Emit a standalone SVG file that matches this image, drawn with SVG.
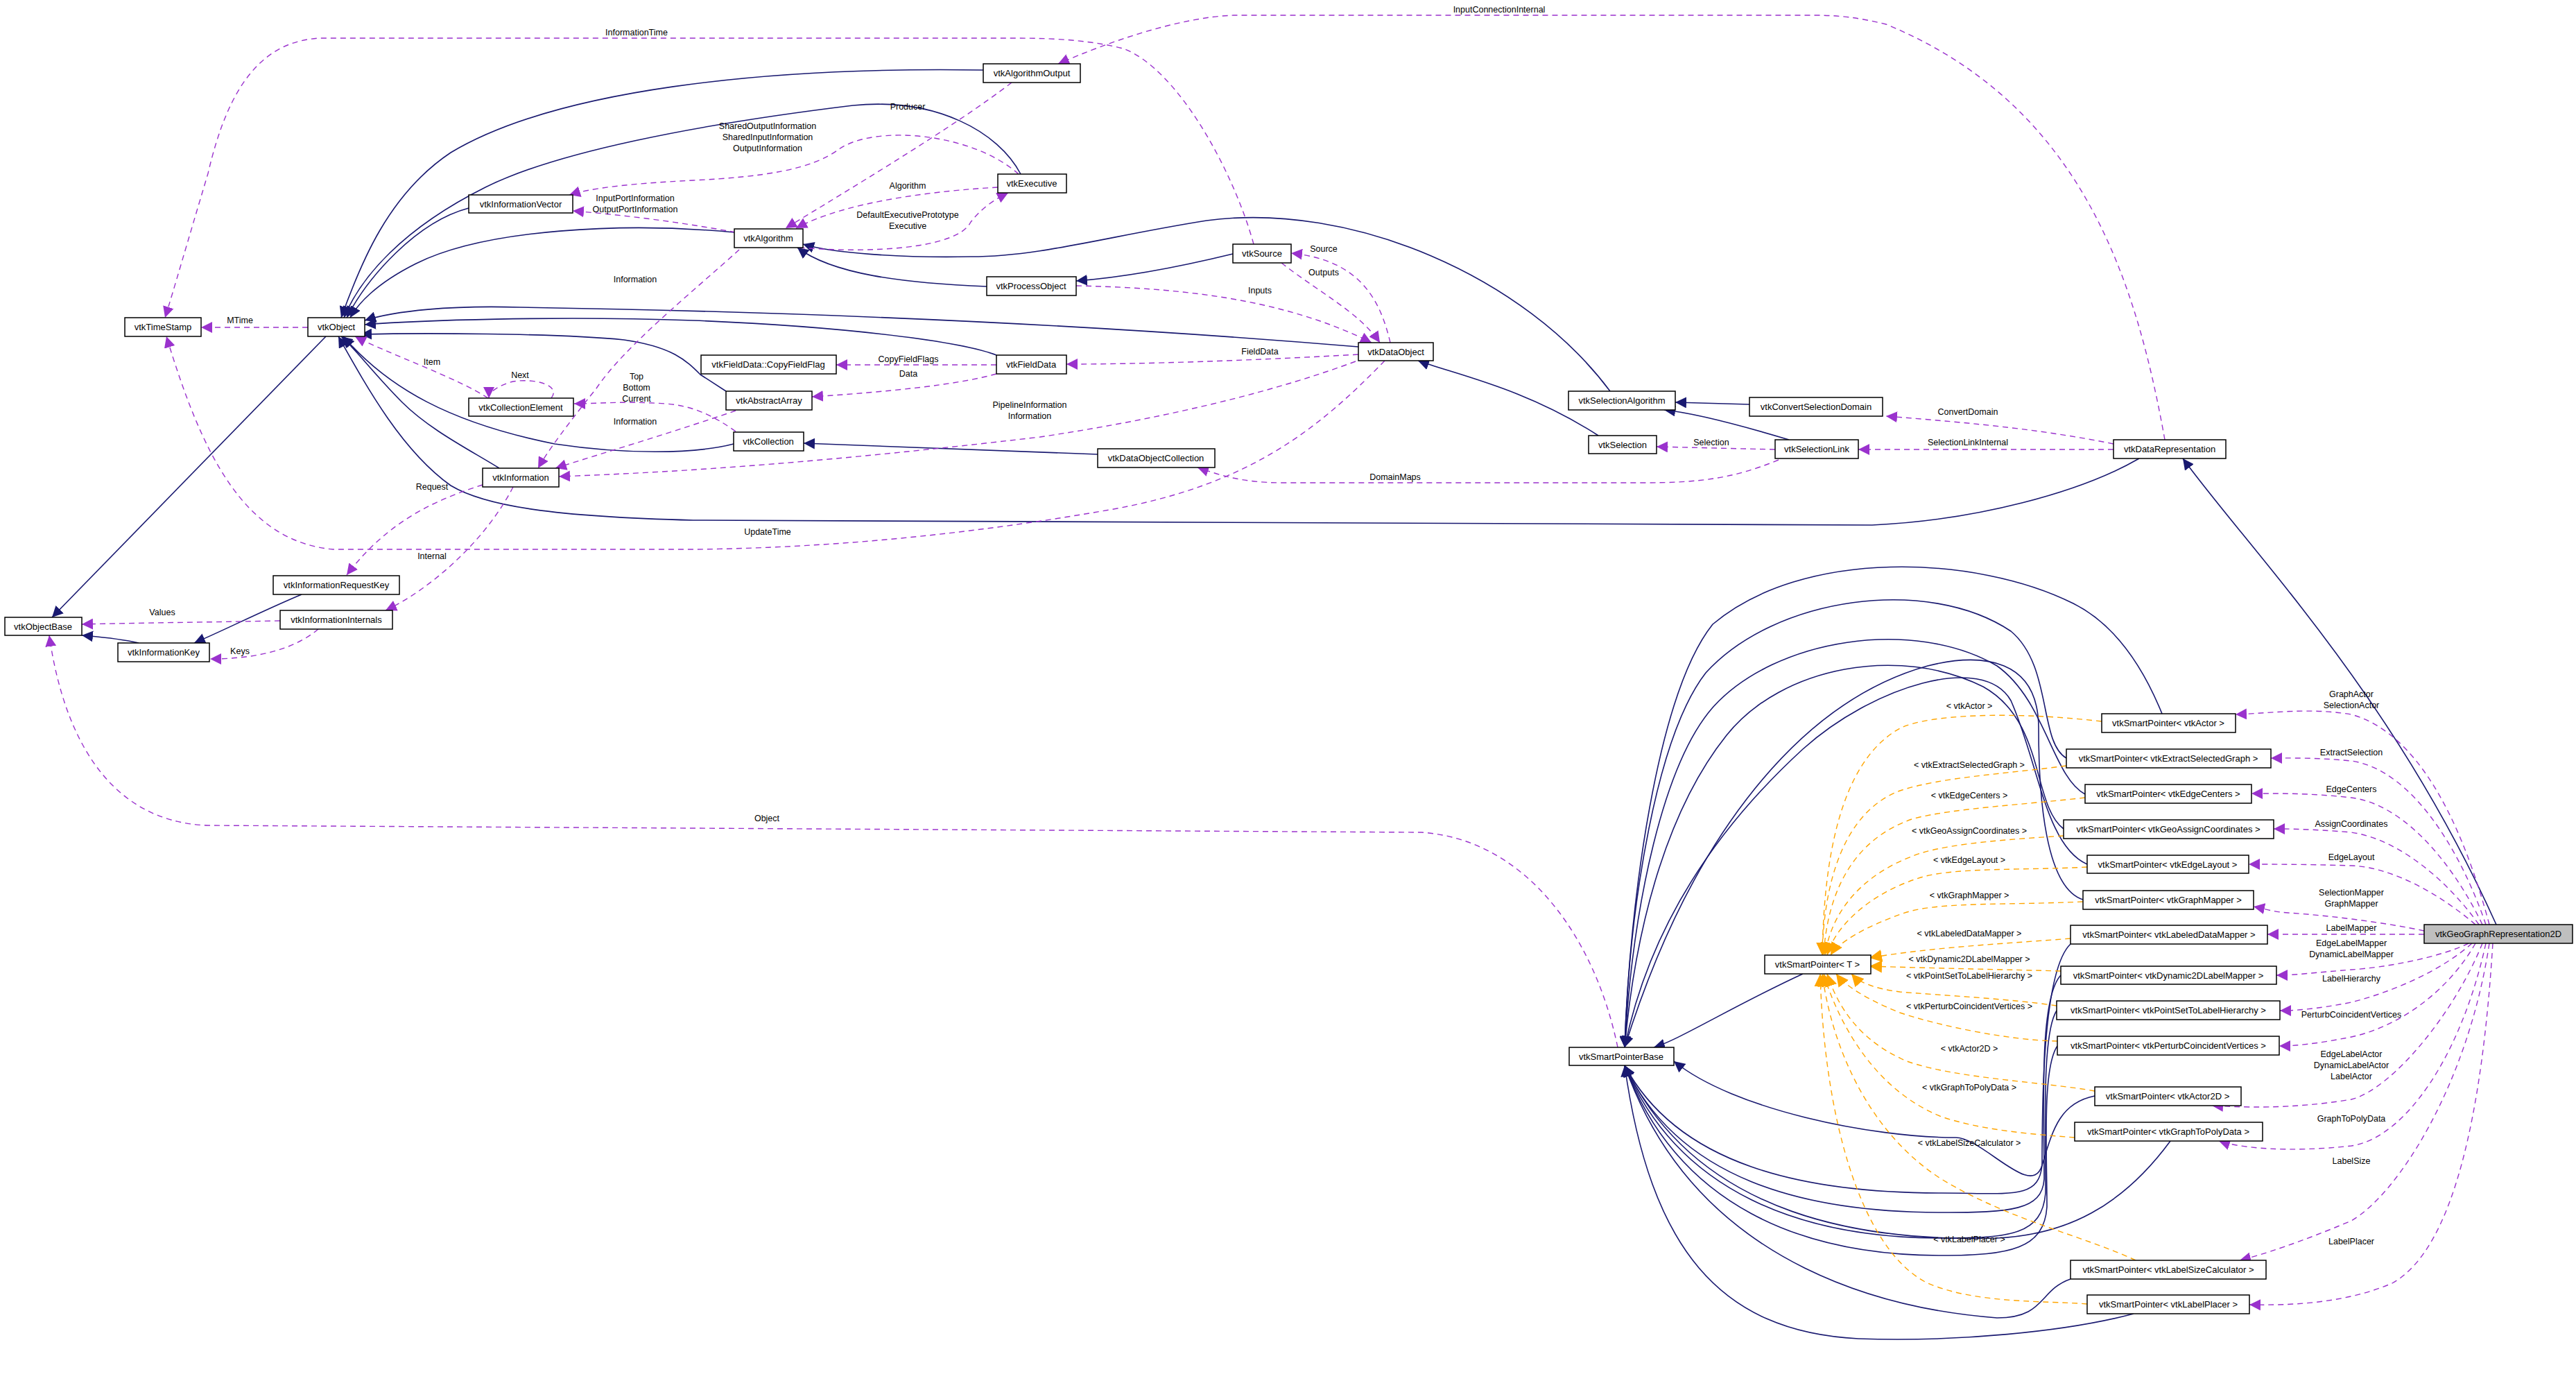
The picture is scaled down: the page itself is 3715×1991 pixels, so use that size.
<svg xmlns="http://www.w3.org/2000/svg" width="3715" height="1991" viewBox="0 0 3715 1991">
<style>
.n rect{fill:#fff;stroke:#000;stroke-width:1.5}
.n text,.l{font-family:"Liberation Sans",Arial,sans-serif;font-size:13px;fill:#000;text-anchor:middle}
.l{font-size:12.5px}
.i{fill:none;stroke:#191970;stroke-width:1.6;marker-end:url(#ai)}
.u{fill:none;stroke:#9a32cd;stroke-width:1.4;stroke-dasharray:8,6;marker-end:url(#au)}
.t{fill:none;stroke:#ffa500;stroke-width:1.4;stroke-dasharray:8,6;marker-end:url(#at)}
</style>
<defs>
<marker id="ai" viewBox="0 0 10 10" refX="10" refY="5" markerWidth="16" markerHeight="16" markerUnits="userSpaceOnUse" orient="auto"><path d="M0,0L10,5L0,10z" fill="#191970"/></marker>
<marker id="au" viewBox="0 0 10 10" refX="10" refY="5" markerWidth="16" markerHeight="16" markerUnits="userSpaceOnUse" orient="auto"><path d="M0,0L10,5L0,10z" fill="#9a32cd"/></marker>
<marker id="at" viewBox="0 0 10 10" refX="10" refY="5" markerWidth="18" markerHeight="18" markerUnits="userSpaceOnUse" orient="auto"><path d="M0,0L10,5L0,10z" fill="#ffa500"/></marker>
</defs>
<rect width="3715" height="1991" fill="#fff"/>
<g id="edges">
<!-- inheritance -->
<path class="i" d="M470,485 L75,890"/>
<path class="i" d="M1418,101 C1100,96 800,130 650,220 C560,280 520,380 492,458"/>
<path class="i" d="M1472,251 C1440,190 1350,140 1230,152 C1000,180 800,220 700,270 C580,330 520,400 496,458"/>
<path class="i" d="M676,300 C600,320 530,400 500,458"/>
<path class="i" d="M1059,335 C900,320 700,330 600,380 C540,410 515,440 505,458"/>
<path class="i" d="M1423,413 C1300,408 1200,395 1150,357"/>
<path class="i" d="M1778,366 C1700,385 1620,400 1552,405"/>
<path class="i" d="M2322,564 C2200,400 1950,290 1740,318 C1600,340 1500,370 1400,370 C1300,372 1200,365 1158,352"/>
<path class="i" d="M1959,500 C1600,470 1200,450 750,443 C650,440 570,448 526,462"/>
<path class="i" d="M1437,512 C1380,490 1200,470 1000,462 C800,455 600,462 526,468"/>
<path class="i" d="M1047,564 L1010,540 C990,520 970,500 900,490 C800,480 600,480 520,482"/>
<path class="i" d="M1058,640 C1000,655 900,655 800,640 C650,610 560,560 495,485"/>
<path class="i" d="M720,675 C680,650 620,620 580,580 C540,540 510,500 492,485"/>
<path class="i" d="M1583,655 L1159,639"/>
<path class="i" d="M3085,661 C3000,710 2850,750 2700,757 L1000,750 C800,745 700,730 650,700 C580,650 530,560 488,485"/>
<path class="i" d="M2305,628 C2200,560 2100,540 2045,520"/>
<path class="i" d="M2580,634 C2500,610 2440,595 2400,591"/>
<path class="i" d="M2523,583 L2416,580"/>
<path class="i" d="M3600,1333 C3450,1000 3250,800 3148,661"/>
<path class="i" d="M435,857 C380,880 320,910 280,927"/>
<path class="i" d="M200,927 C170,920 140,918 118,916"/>
<path class="i" d="M2600,1404 C2500,1450 2420,1500 2385,1510"/>
<!-- smart pointers to base (upper) -->
<path class="i" d="M3118,1029 C3090,960 3050,900 2990,870 C2850,800 2600,790 2470,900 C2390,1000 2350,1300 2343,1510"/>
<path class="i" d="M2980,1093 C2940,1070 2960,960 2900,910 C2780,830 2560,860 2460,970 C2390,1060 2350,1300 2343,1510"/>
<path class="i" d="M3007,1145 C2960,1120 2950,1010 2880,960 C2760,890 2560,920 2470,1020 C2400,1100 2355,1300 2343,1510"/>
<path class="i" d="M2976,1195 C2930,1160 2950,1040 2860,990 C2740,930 2570,960 2490,1060 C2410,1160 2360,1320 2343,1510"/>
<path class="i" d="M3010,1246 C2950,1220 2940,1100 2900,1010 C2860,940 2700,990 2600,1080 C2480,1190 2380,1330 2343,1510"/>
<path class="i" d="M3004,1297 C2950,1280 2940,1150 2940,1050 C2940,950 2860,940 2780,960 C2600,1010 2440,1200 2343,1510"/>
<!-- smart pointers to base (lower) -->
<path class="i" d="M2986,1361 C2945,1400 2945,1600 2945,1680 C2940,1730 2900,1720 2800,1720 C2600,1720 2420,1680 2343,1536"/>
<path class="i" d="M2972,1406 C2940,1440 2948,1600 2948,1700 C2945,1745 2900,1748 2800,1748 C2600,1748 2420,1700 2343,1536"/>
<path class="i" d="M2966,1457 C2945,1490 2950,1620 2950,1720 C2945,1780 2900,1785 2800,1785 C2600,1785 2420,1720 2343,1536"/>
<path class="i" d="M2967,1508 C2945,1540 2952,1660 2952,1740 C2948,1800 2900,1810 2800,1810 C2600,1810 2420,1740 2343,1536"/>
<path class="i" d="M3021,1580 C2970,1590 2960,1630 2945,1680 C2930,1730 2860,1640 2820,1640 C2700,1640 2500,1600 2414,1530"/>
<path class="i" d="M3130,1645 C3060,1740 2980,1780 2880,1785 C2700,1790 2450,1760 2343,1536"/>
<path class="i" d="M2986,1844 C2940,1860 2950,1900 2880,1900 C2750,1890 2450,1840 2343,1536"/>
<path class="i" d="M3077,1894 C2980,1920 2820,1935 2680,1930 C2480,1920 2380,1800 2343,1536"/>
<!-- template instantiation -->
<path class="t" d="M3031,1040 C2900,1025 2780,1030 2740,1050 C2650,1100 2630,1250 2628,1377"/>
<path class="t" d="M2980,1104 C2900,1115 2800,1120 2740,1140 C2660,1170 2630,1270 2628,1377"/>
<path class="t" d="M3007,1150 C2920,1160 2820,1165 2760,1180 C2670,1210 2635,1290 2630,1377"/>
<path class="t" d="M2976,1205 C2900,1210 2820,1215 2770,1230 C2680,1260 2640,1320 2632,1377"/>
<path class="t" d="M3010,1250 C2920,1255 2820,1250 2770,1265 C2690,1290 2645,1340 2635,1377"/>
<path class="t" d="M3004,1300 C2900,1305 2800,1300 2750,1315 C2690,1335 2650,1360 2640,1377"/>
<path class="t" d="M2986,1353 C2900,1360 2790,1365 2696,1381"/>
<path class="t" d="M2972,1400 C2900,1398 2790,1396 2696,1393"/>
<path class="t" d="M2966,1450 C2900,1440 2800,1435 2740,1430 C2700,1425 2680,1415 2670,1404"/>
<path class="t" d="M2967,1501 C2900,1500 2800,1480 2740,1460 C2690,1440 2660,1420 2648,1404"/>
<path class="t" d="M3021,1573 C2950,1560 2820,1555 2750,1530 C2680,1500 2650,1450 2635,1404"/>
<path class="t" d="M2992,1640 C2930,1635 2860,1630 2800,1610 C2700,1570 2650,1470 2630,1404"/>
<path class="t" d="M3080,1817 C3000,1780 2900,1760 2800,1700 C2690,1630 2640,1500 2628,1404"/>
<path class="t" d="M3010,1880 C2950,1875 2850,1880 2780,1850 C2680,1800 2630,1600 2625,1404"/>
<!-- usage from GeoGraphRepresentation2D -->
<path class="u" d="M3590,1333 C3560,1220 3500,1060 3391,1030 C3330,1020 3280,1028 3224,1030"/>
<path class="u" d="M3585,1333 C3550,1230 3480,1110 3391,1097 C3340,1092 3300,1093 3275,1093"/>
<path class="u" d="M3580,1333 C3540,1250 3470,1160 3391,1150 C3330,1143 3280,1144 3247,1144"/>
<path class="u" d="M3575,1333 C3530,1270 3460,1210 3391,1200 C3330,1195 3300,1195 3279,1195"/>
<path class="u" d="M3570,1333 C3520,1290 3450,1250 3391,1248 C3320,1246 3280,1246 3243,1246"/>
<path class="u" d="M3496,1342 C3440,1330 3360,1320 3300,1316 C3280,1315 3265,1310 3250,1307"/>
<path class="u" d="M3496,1347 L3270,1347"/>
<path class="u" d="M3560,1360 C3520,1380 3440,1395 3391,1398 C3340,1402 3310,1406 3283,1406"/>
<path class="u" d="M3565,1360 C3520,1400 3450,1430 3391,1445 C3340,1455 3310,1457 3288,1457"/>
<path class="u" d="M3570,1360 C3530,1430 3460,1480 3391,1495 C3340,1505 3310,1508 3287,1508"/>
<path class="u" d="M3580,1360 C3540,1460 3450,1570 3391,1585 C3300,1600 3230,1596 3190,1594"/>
<path class="u" d="M3585,1360 C3550,1520 3470,1640 3391,1652 C3300,1662 3230,1655 3200,1645"/>
<path class="u" d="M3590,1360 C3560,1560 3460,1720 3391,1760 C3320,1790 3260,1810 3230,1817"/>
<path class="u" d="M3595,1360 C3580,1600 3540,1800 3450,1850 C3380,1880 3300,1882 3244,1881"/>
<!-- usage, upper part -->
<path class="u" d="M444,472 L290,472"/>
<path class="u" d="M1808,352 C1780,250 1700,100 1620,70 C1560,55 1500,55 1450,55 L460,55 C380,60 330,120 300,250 C270,350 250,420 238,458"/>
<path class="u" d="M3122,634 C3080,400 3000,150 2720,35 C2680,25 2650,22 2617,22 L1779,22 C1700,25 1600,60 1526,92"/>
<path class="u" d="M1459,119 C1380,180 1230,270 1133,329"/>
<path class="u" d="M1469,251 C1400,190 1260,180 1210,215 C1170,245 1100,255 1000,260 C900,265 850,272 821,281"/>
<path class="u" d="M1439,270 C1350,275 1220,290 1148,329"/>
<path class="u" d="M1153,357 C1250,365 1380,360 1400,320 C1420,295 1440,285 1454,278"/>
<path class="u" d="M1061,335 C980,320 900,310 826,304"/>
<path class="u" d="M1066,360 C1000,420 900,500 860,560 C820,610 790,650 776,675"/>
<path class="u" d="M704,574 C660,545 560,510 512,485"/>
<path class="u" d="M795,574 C810,555 770,545 740,550 C720,555 705,565 705,574"/>
<path class="u" d="M1061,622 C1030,600 1000,585 960,582 C900,578 860,582 828,582"/>
<path class="u" d="M1437,526 L1206,526"/>
<path class="u" d="M1437,539 C1380,555 1280,565 1171,572"/>
<path class="u" d="M1061,592 C980,620 880,650 801,675"/>
<path class="u" d="M1955,521 C1850,560 1700,600 1500,630 C1200,665 1000,680 806,687"/>
<path class="u" d="M1997,520 C1900,620 1800,700 1600,735 C1400,770 1200,790 1000,792 L480,792 C350,780 290,650 240,485"/>
<path class="u" d="M696,699 C630,720 560,750 500,829"/>
<path class="u" d="M740,702 C700,780 620,850 556,880"/>
<path class="u" d="M404,895 C300,897 200,898 118,900"/>
<path class="u" d="M459,907 C420,940 360,950 303,950"/>
<path class="u" d="M2333,1510 C2300,1350 2200,1210 2050,1200 L300,1190 C150,1185 90,1050 71,916"/>
<path class="u" d="M2005,494 C1990,430 1960,375 1862,365"/>
<path class="u" d="M1848,379 C1900,420 1960,450 1990,494"/>
<path class="u" d="M1552,412 C1700,415 1850,430 1978,494"/>
<path class="u" d="M1959,511 C1800,520 1650,525 1538,525"/>
<path class="u" d="M3048,640 C2950,620 2850,610 2720,600"/>
<path class="u" d="M3048,648 L2680,648"/>
<path class="u" d="M2560,648 L2389,644"/>
<path class="u" d="M2565,663 C2500,690 2450,696 2370,696 L1850,696 C1790,696 1760,685 1727,674"/>
<!-- labels -->
<text class="l" x="346" y="466">MTime</text>
<text class="l" x="918" y="51">InformationTime</text>
<text class="l" x="2162" y="18">InputConnectionInternal</text>
<text class="l" x="1309" y="158">Producer</text>
<text class="l" x="1107" y="186">SharedOutputInformation</text>
<text class="l" x="1107" y="202">SharedInputInformation</text>
<text class="l" x="1107" y="218">OutputInformation</text>
<text class="l" x="1309" y="272">Algorithm</text>
<text class="l" x="1309" y="314">DefaultExecutivePrototype</text>
<text class="l" x="1309" y="330">Executive</text>
<text class="l" x="916" y="290">InputPortInformation</text>
<text class="l" x="916" y="306">OutputPortInformation</text>
<text class="l" x="916" y="407">Information</text>
<text class="l" x="623" y="526">Item</text>
<text class="l" x="750" y="545">Next</text>
<text class="l" x="918" y="547">Top</text>
<text class="l" x="918" y="563">Bottom</text>
<text class="l" x="918" y="579">Current</text>
<text class="l" x="1310" y="522">CopyFieldFlags</text>
<text class="l" x="1310" y="543">Data</text>
<text class="l" x="916" y="612">Information</text>
<text class="l" x="1485" y="588">PipelineInformation</text>
<text class="l" x="1485" y="604">Information</text>
<text class="l" x="1107" y="771">UpdateTime</text>
<text class="l" x="623" y="706">Request</text>
<text class="l" x="623" y="806">Internal</text>
<text class="l" x="234" y="887">Values</text>
<text class="l" x="346" y="943">Keys</text>
<text class="l" x="1106" y="1184">Object</text>
<text class="l" x="1909" y="363">Source</text>
<text class="l" x="1909" y="397">Outputs</text>
<text class="l" x="1817" y="423">Inputs</text>
<text class="l" x="1817" y="511">FieldData</text>
<text class="l" x="2838" y="598">ConvertDomain</text>
<text class="l" x="2838" y="642">SelectionLinkInternal</text>
<text class="l" x="2468" y="642">Selection</text>
<text class="l" x="2012" y="692">DomainMaps</text>
<text class="l" x="2840" y="1022">&lt; vtkActor &gt;</text>
<text class="l" x="2840" y="1107">&lt; vtkExtractSelectedGraph &gt;</text>
<text class="l" x="2840" y="1151">&lt; vtkEdgeCenters &gt;</text>
<text class="l" x="2840" y="1202">&lt; vtkGeoAssignCoordinates &gt;</text>
<text class="l" x="2840" y="1244">&lt; vtkEdgeLayout &gt;</text>
<text class="l" x="2840" y="1295">&lt; vtkGraphMapper &gt;</text>
<text class="l" x="2840" y="1350">&lt; vtkLabeledDataMapper &gt;</text>
<text class="l" x="2840" y="1387">&lt; vtkDynamic2DLabelMapper &gt;</text>
<text class="l" x="2840" y="1411">&lt; vtkPointSetToLabelHierarchy &gt;</text>
<text class="l" x="2840" y="1455">&lt; vtkPerturbCoincidentVertices &gt;</text>
<text class="l" x="2840" y="1516">&lt; vtkActor2D &gt;</text>
<text class="l" x="2840" y="1572">&lt; vtkGraphToPolyData &gt;</text>
<text class="l" x="2840" y="1652">&lt; vtkLabelSizeCalculator &gt;</text>
<text class="l" x="2840" y="1791">&lt; vtkLabelPlacer &gt;</text>
<text class="l" x="3391" y="1005">GraphActor</text>
<text class="l" x="3391" y="1021">SelectionActor</text>
<text class="l" x="3391" y="1089">ExtractSelection</text>
<text class="l" x="3391" y="1142">EdgeCenters</text>
<text class="l" x="3391" y="1192">AssignCoordinates</text>
<text class="l" x="3391" y="1240">EdgeLayout</text>
<text class="l" x="3391" y="1291">SelectionMapper</text>
<text class="l" x="3391" y="1307">GraphMapper</text>
<text class="l" x="3391" y="1342">LabelMapper</text>
<text class="l" x="3391" y="1364">EdgeLabelMapper</text>
<text class="l" x="3391" y="1380">DynamicLabelMapper</text>
<text class="l" x="3391" y="1415">LabelHierarchy</text>
<text class="l" x="3391" y="1467">PerturbCoincidentVertices</text>
<text class="l" x="3391" y="1524">EdgeLabelActor</text>
<text class="l" x="3391" y="1540">DynamicLabelActor</text>
<text class="l" x="3391" y="1556">LabelActor</text>
<text class="l" x="3391" y="1617">GraphToPolyData</text>
<text class="l" x="3391" y="1678">LabelSize</text>
<text class="l" x="3391" y="1794">LabelPlacer</text>
</g>
<g id="vtkTimeStamp" class="n"><rect x="180" y="458" width="110" height="27"/><text x="235" y="476">vtkTimeStamp</text></g>
<g id="vtkObject" class="n"><rect x="444" y="458" width="82" height="27"/><text x="485" y="476">vtkObject</text></g>
<g id="vtkInformationVector" class="n"><rect x="676" y="281" width="150" height="26"/><text x="751" y="299">vtkInformationVector</text></g>
<g id="vtkAlgorithmOutput" class="n"><rect x="1418" y="92" width="140" height="27"/><text x="1488" y="110">vtkAlgorithmOutput</text></g>
<g id="vtkExecutive" class="n"><rect x="1439" y="251" width="99" height="27"/><text x="1488" y="269">vtkExecutive</text></g>
<g id="vtkAlgorithm" class="n"><rect x="1059" y="330" width="99" height="27"/><text x="1108" y="348">vtkAlgorithm</text></g>
<g id="vtkProcessObject" class="n"><rect x="1423" y="399" width="129" height="27"/><text x="1487" y="417">vtkProcessObject</text></g>
<g id="vtkFieldData_CopyFieldFlag" class="n"><rect x="1011" y="512" width="195" height="27"/><text x="1108" y="530">vtkFieldData::CopyFieldFlag</text></g>
<g id="vtkFieldData" class="n"><rect x="1437" y="512" width="101" height="27"/><text x="1487" y="530">vtkFieldData</text></g>
<g id="vtkCollectionElement" class="n"><rect x="676" y="574" width="151" height="26"/><text x="751" y="592">vtkCollectionElement</text></g>
<g id="vtkAbstractArray" class="n"><rect x="1047" y="564" width="124" height="27"/><text x="1109" y="582">vtkAbstractArray</text></g>
<g id="vtkCollection" class="n"><rect x="1058" y="623" width="101" height="27"/><text x="1108" y="641">vtkCollection</text></g>
<g id="vtkInformation" class="n"><rect x="696" y="675" width="110" height="27"/><text x="751" y="693">vtkInformation</text></g>
<g id="vtkInformationRequestKey" class="n"><rect x="394" y="830" width="182" height="27"/><text x="485" y="848">vtkInformationRequestKey</text></g>
<g id="vtkInformationInternals" class="n"><rect x="404" y="880" width="162" height="27"/><text x="485" y="898">vtkInformationInternals</text></g>
<g id="vtkObjectBase" class="n"><rect x="7" y="890" width="111" height="26"/><text x="62" y="908">vtkObjectBase</text></g>
<g id="vtkInformationKey" class="n"><rect x="170" y="927" width="132" height="27"/><text x="236" y="945">vtkInformationKey</text></g>
<g id="vtkSource" class="n"><rect x="1778" y="352" width="84" height="27"/><text x="1820" y="370">vtkSource</text></g>
<g id="vtkDataObject" class="n"><rect x="1959" y="494" width="108" height="26"/><text x="2013" y="512">vtkDataObject</text></g>
<g id="vtkSelectionAlgorithm" class="n"><rect x="2262" y="564" width="154" height="27"/><text x="2339" y="582">vtkSelectionAlgorithm</text></g>
<g id="vtkConvertSelectionDomain" class="n"><rect x="2523" y="573" width="192" height="27"/><text x="2619" y="591">vtkConvertSelectionDomain</text></g>
<g id="vtkSelection" class="n"><rect x="2291" y="628" width="98" height="26"/><text x="2340" y="646">vtkSelection</text></g>
<g id="vtkSelectionLink" class="n"><rect x="2560" y="634" width="120" height="27"/><text x="2620" y="652">vtkSelectionLink</text></g>
<g id="vtkDataRepresentation" class="n"><rect x="3048" y="634" width="162" height="27"/><text x="3129" y="652">vtkDataRepresentation</text></g>
<g id="vtkDataObjectCollection" class="n"><rect x="1583" y="647" width="169" height="27"/><text x="1667" y="665">vtkDataObjectCollection</text></g>
<g id="sp_vtkActor" class="n"><rect x="3031" y="1029" width="193" height="27"/><text x="3127" y="1047">vtkSmartPointer&lt; vtkActor &gt;</text></g>
<g id="sp_vtkExtractSelectedGraph" class="n"><rect x="2980" y="1080" width="295" height="27"/><text x="3127" y="1098">vtkSmartPointer&lt; vtkExtractSelectedGraph &gt;</text></g>
<g id="sp_vtkEdgeCenters" class="n"><rect x="3007" y="1131" width="240" height="27"/><text x="3127" y="1149">vtkSmartPointer&lt; vtkEdgeCenters &gt;</text></g>
<g id="sp_vtkGeoAssignCoordinates" class="n"><rect x="2976" y="1182" width="303" height="27"/><text x="3127" y="1200">vtkSmartPointer&lt; vtkGeoAssignCoordinates &gt;</text></g>
<g id="sp_vtkEdgeLayout" class="n"><rect x="3010" y="1233" width="233" height="26"/><text x="3126" y="1251">vtkSmartPointer&lt; vtkEdgeLayout &gt;</text></g>
<g id="sp_vtkGraphMapper" class="n"><rect x="3004" y="1284" width="246" height="27"/><text x="3127" y="1302">vtkSmartPointer&lt; vtkGraphMapper &gt;</text></g>
<g id="sp_vtkLabeledDataMapper" class="n"><rect x="2986" y="1334" width="284" height="27"/><text x="3128" y="1352">vtkSmartPointer&lt; vtkLabeledDataMapper &gt;</text></g>
<g id="sp_vtkDynamic2DLabelMapper" class="n"><rect x="2972" y="1393" width="311" height="26"/><text x="3127" y="1411">vtkSmartPointer&lt; vtkDynamic2DLabelMapper &gt;</text></g>
<g id="sp_vtkPointSetToLabelHierarchy" class="n"><rect x="2966" y="1443" width="322" height="27"/><text x="3127" y="1461">vtkSmartPointer&lt; vtkPointSetToLabelHierarchy &gt;</text></g>
<g id="sp_vtkPerturbCoincidentVertices" class="n"><rect x="2967" y="1494" width="320" height="27"/><text x="3127" y="1512">vtkSmartPointer&lt; vtkPerturbCoincidentVertices &gt;</text></g>
<g id="sp_vtkActor2D" class="n"><rect x="3021" y="1567" width="211" height="27"/><text x="3126" y="1585">vtkSmartPointer&lt; vtkActor2D &gt;</text></g>
<g id="sp_vtkGraphToPolyData" class="n"><rect x="2992" y="1618" width="271" height="27"/><text x="3127" y="1636">vtkSmartPointer&lt; vtkGraphToPolyData &gt;</text></g>
<g id="sp_vtkLabelSizeCalculator" class="n"><rect x="2986" y="1817" width="282" height="27"/><text x="3127" y="1835">vtkSmartPointer&lt; vtkLabelSizeCalculator &gt;</text></g>
<g id="sp_vtkLabelPlacer" class="n"><rect x="3010" y="1867" width="234" height="27"/><text x="3127" y="1885">vtkSmartPointer&lt; vtkLabelPlacer &gt;</text></g>
<g id="sp_T" class="n"><rect x="2545" y="1377" width="153" height="27"/><text x="2621" y="1395">vtkSmartPointer&lt; T &gt;</text></g>
<g id="vtkSmartPointerBase" class="n"><rect x="2263" y="1510" width="151" height="26"/><text x="2338" y="1528">vtkSmartPointerBase</text></g>
<g id="vtkGeoGraphRepresentation2D" class="n"><rect x="3496" y="1333" width="214" height="27" style="fill:#bfbfbf"/><text x="3603" y="1351">vtkGeoGraphRepresentation2D</text></g>
</svg>
